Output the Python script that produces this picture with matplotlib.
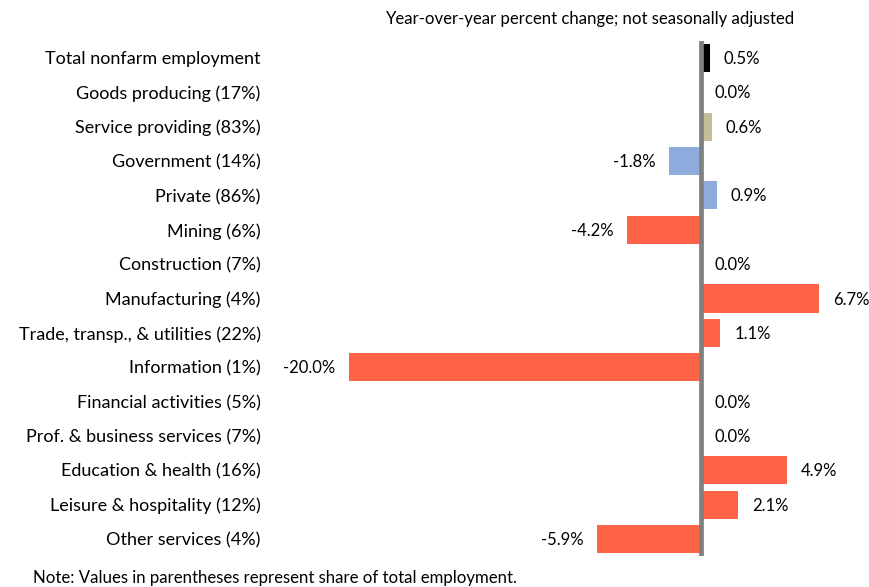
import matplotlib.pyplot as plt

categories = [
    "Total nonfarm employment",
    "Goods producing (17%)",
    "Service providing (83%)",
    "Government (14%)",
    "Private (86%)",
    "Mining (6%)",
    "Construction (7%)",
    "Manufacturing (4%)",
    "Trade, transp., & utilities (22%)",
    "Information (1%)",
    "Financial activities (5%)",
    "Prof. & business services (7%)",
    "Education & health (16%)",
    "Leisure & hospitality (12%)",
    "Other services (4%)",
]
pct_change = [0.5, 0.0, 0.6, -1.8, 0.9, -4.2, 0.0, 6.7, 1.1, -20.0, 0.0, 0.0, 4.9, 2.1, -5.9]
bar_colors = ["#000000", "#C4BD97", "#C4BD97", "#8FAADC", "#8FAADC"] + ["#FF6347"] * 10

plt.rcParams["font.family"] = ["Lato", "DejaVu Sans"]

fig = plt.figure(figsize=(8.69, 5.87), dpi=100)
ax = fig.add_axes([0.3814, 0.0525, 0.6177, 0.878])

ypos = list(range(len(categories)))
ax.barh(ypos, pct_change, height=0.82, color=bar_colors, zorder=2)
ax.axvline(0, color="#808080", linewidth=3.4, zorder=3)

for y, v in zip(ypos, pct_change):
    off = 10 if v >= 0 else -10
    ax.annotate(f"{v:.1f}%", xy=(v, y + 0.03), xytext=(off, 0), textcoords="offset points",
                ha="left" if v >= 0 else "right", va="center", fontsize=12)

ax.set_xlim(-21, 9.5)
ax.set_ylim(14.5, -0.5)
ax.set_yticks(ypos)
ax.set_yticklabels(categories, fontsize=13)
ax.tick_params(axis="y", length=0, pad=51)
ax.set_xticks([])
for s in ax.spines.values():
    s.set_visible(False)

fig.text(590 / 869, 1 - 19 / 587, "Year-over-year percent change; not seasonally adjusted",
         ha="center", va="center", fontsize=12.1)
fig.text(33 / 869, 1 - 578 / 587, "Note: Values in parentheses represent share of total employment.",
         ha="left", va="center", fontsize=12.1)

fig.savefig("out.png", dpi=100)
